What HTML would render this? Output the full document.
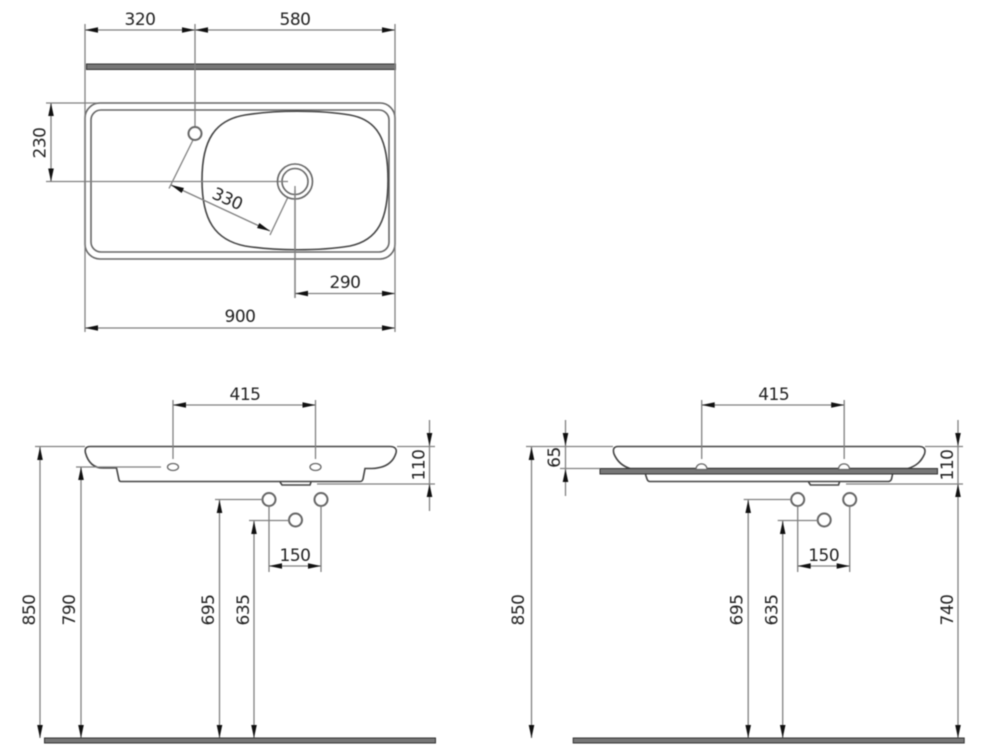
<!DOCTYPE html>
<html><head><meta charset="utf-8"><style>
html,body{margin:0;padding:0;background:#fff}
svg{display:block;filter:blur(0.4px)}
text{font-family:"DejaVu Sans",sans-serif;font-size:17px;letter-spacing:-0.5px;fill:#222;text-anchor:middle}
.d{stroke:#808080;stroke-width:1.3;fill:none}
.o{stroke:#444;stroke-width:1.6;fill:#fff}
.n{stroke:#444;stroke-width:1.6;fill:none}
.g{stroke:#666;stroke-width:1.6;fill:none}
.c{stroke:#666;stroke-width:2;fill:#fff}
.s{fill:#777;stroke:#333;stroke-width:1}
.a{fill:#111}
</style></head><body>
<svg width="1000" height="753" viewBox="0 0 1000 753" xmlns="http://www.w3.org/2000/svg">
<defs>
<path id="ar" d="M0 0L-13 -2.8L-13 2.8Z" class="a"/>
<g id="pair">
  <circle cx="269" cy="499.5" r="6.5" class="c"/>
  <circle cx="321" cy="499.5" r="6.5" class="c"/>
  <circle cx="295.5" cy="520" r="6.5" class="c"/>
  <path class="d" d="M215 499.500H262.500M249 520.500H289M269 506V572M321 506V572M269 566H321M219.500 500V738M254 520.500V738"/>
  <use href="#ar" transform="translate(269,566) rotate(180)"/>
  <use href="#ar" transform="translate(321,566)"/>
  <use href="#ar" transform="translate(219.500,500) rotate(-90)"/>
  <use href="#ar" transform="translate(219.500,738) rotate(90)"/>
  <use href="#ar" transform="translate(254,521) rotate(-90)"/>
  <use href="#ar" transform="translate(254,738) rotate(90)"/>
  <path class="d" d="M173 400V459M315.500 400V459M173 405H315.500"/>
  <use href="#ar" transform="translate(173,405) rotate(180)"/>
  <use href="#ar" transform="translate(315.500,405)"/>
  <rect x="44.500" y="738" width="391" height="5" class="s"/>
  <text x="245" y="400">415</text>
  <text x="295" y="561">150</text>
  <text transform="translate(214,610) rotate(-90)">695</text>
  <text transform="translate(249,610) rotate(-90)">635</text>
</g>
</defs>

<!-- top view -->
<rect x="86.500" y="64" width="309" height="5.500" class="s"/>
<rect x="85" y="103" width="310" height="156" rx="15" class="g"/>
<rect x="91" y="110" width="298" height="142" rx="10" class="g"/>
<path class="n" d="M245 115C275 110 320 110 350 115C378 120 388 140 388 180C388 220 378 240 350 246C320 251 275 251 245 246C215 240 202 220 202 180C202 140 215 120 245 115Z"/>
<path class="d" d="M85 24V332M395 24V332M195 24V127M85 30H395M46 103H97M46 181.500H278M51 103V181.500M295 190V298M295 293.500H395M85 328H395M193 140L169 188.500M288 197L270 235M171 185L270 231"/>
<circle cx="195" cy="133.500" r="6.500" class="c"/>
<circle cx="295" cy="181.500" r="17.500" class="g"/>
<circle cx="295" cy="181.500" r="13" class="g"/>
<path class="d" d="M278 181.500H288M295 186V298"/>
<use href="#ar" transform="translate(85,30) rotate(180)"/>
<use href="#ar" transform="translate(195,30)"/>
<use href="#ar" transform="translate(195,30) rotate(180)"/>
<use href="#ar" transform="translate(395,30)"/>
<use href="#ar" transform="translate(51,103) rotate(-90)"/>
<use href="#ar" transform="translate(51,181.500) rotate(90)"/>
<use href="#ar" transform="translate(171,185) rotate(205)"/>
<use href="#ar" transform="translate(270,231) rotate(25)"/>
<use href="#ar" transform="translate(295,293.500) rotate(180)"/>
<use href="#ar" transform="translate(395,293.500)"/>
<use href="#ar" transform="translate(85,328) rotate(180)"/>
<use href="#ar" transform="translate(395,328)"/>
<text x="140" y="25">320</text>
<text x="295" y="25">580</text>
<text x="345" y="288">290</text>
<text x="240" y="322">900</text>
<text transform="translate(45.500,143) rotate(-90)">230</text>
<text transform="translate(225,204) rotate(24)">330</text>

<!-- left elevation -->
<path class="o" d="M90 446.500H390C395 446.500 397 449 396 453C393 463 385 468 372 468.500H365L363 479C362.500 480.500 362 481.500 360 481.500H121C119.500 481.500 119 480.500 118.800 479L116.500 468H103C93 468 88 462 85.500 453C84.500 449 86 446.500 90 446.500Z"/>
<path class="n" d="M280 482L282 485H310L311 482"/>
<ellipse cx="173" cy="467" rx="5.500" ry="3.500" class="c" style="stroke-width:1.300"/>
<ellipse cx="315.500" cy="467" rx="5.500" ry="3.500" class="c" style="stroke-width:1.300"/>
<path class="d" d="M35 446.500H85M397 446.500H435M76 467H161M317 484H435M429.500 420V511M40 447V738M81 467V738"/>
<use href="#ar" transform="translate(429.500,446) rotate(90)"/>
<use href="#ar" transform="translate(429.500,484) rotate(-90)"/>
<use href="#ar" transform="translate(40,447) rotate(-90)"/>
<use href="#ar" transform="translate(40,738) rotate(90)"/>
<use href="#ar" transform="translate(81,467) rotate(-90)"/>
<use href="#ar" transform="translate(81,738) rotate(90)"/>
<use href="#pair"/>
<text transform="translate(35,610) rotate(-90)">850</text>
<text transform="translate(75,610) rotate(-90)">790</text>
<text transform="translate(424.500,465) rotate(-90)">110</text>

<!-- right elevation -->
<path class="o" d="M618 446.500H919C924 446.500 926 449 924.500 454C921 462 916 466 908 468.500H630C622 466 617 461 614 454C612.500 449 614 446.500 618 446.500Z"/>
<path class="o" d="M645.500 474.500L647 479C647.500 480.500 648.500 481.500 650 481.500H888C890 481.500 891 480.500 891.500 479L892.500 474.500"/>
<rect x="600" y="468.500" width="337.500" height="5.500" class="s"/>
<path class="n" d="M808.500 482L810.500 485H838.500L839.500 482"/>
<path class="c" style="stroke-width:1.300" d="M696 469.500C696 462 707 462 707 469.500Z"/>
<path class="c" style="stroke-width:1.300" d="M838.500 469.500C838.500 462 849.500 462 849.500 469.500Z"/>
<path class="d" d="M526 446.500H613M925 446.500H963M560 468.500H600M846 484H963M565.500 420V496M958 420V511M958 484V738M531.500 447V738"/>
<use href="#ar" transform="translate(565.500,446) rotate(90)"/>
<use href="#ar" transform="translate(565.500,469) rotate(-90)"/>
<use href="#ar" transform="translate(958,446) rotate(90)"/>
<use href="#ar" transform="translate(958,484) rotate(-90)"/>
<use href="#ar" transform="translate(958,738) rotate(90)"/>
<use href="#ar" transform="translate(531.500,447) rotate(-90)"/>
<use href="#ar" transform="translate(531.500,738) rotate(90)"/>
<use href="#pair" transform="translate(528.700,0)"/>
<text transform="translate(560,457.500) rotate(-90)">65</text>
<text transform="translate(524,610) rotate(-90)">850</text>
<text transform="translate(953,465) rotate(-90)">110</text>
<text transform="translate(953,610) rotate(-90)">740</text>
</svg>
</body></html>
